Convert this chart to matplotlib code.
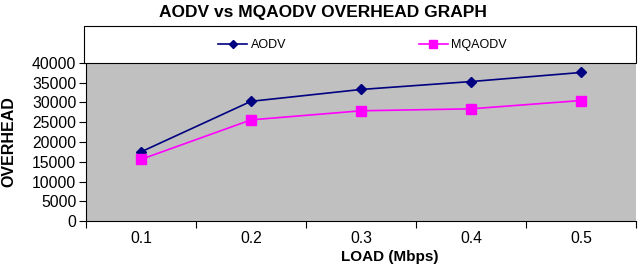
import matplotlib
matplotlib.use("Agg")
import matplotlib.pyplot as plt
from matplotlib.patches import Rectangle
import numpy as np

plt.rcParams['font.family'] = ['Liberation Sans', 'DejaVu Sans']

loads = ["0.1", "0.2", "0.3", "0.4", "0.5"]
aodv = [17500, 30300, 33300, 35300, 37600]
mqaodv = [15600, 25600, 27900, 28400, 30500]
yticks = [0, 5000, 10000, 15000, 20000, 25000, 30000, 35000, 40000]

W, H = 640, 268
fig = plt.figure(figsize=(W / 100, H / 100), dpi=100)
ax = fig.add_axes([86 / W, (H - 221) / H, (636 - 86) / W, (221 - 63) / H])
ax.set_facecolor('#C0C0C0')

x = np.arange(len(loads))
ax.plot(x, aodv, color='#000080', marker='D', markersize=5, linewidth=1.2, label='AODV')
ax.plot(x, mqaodv, color='#FF00FF', marker='s', markersize=7, linewidth=1.2, label='MQAODV')

ax.set_xlim(-0.5, len(loads) - 0.5)
ax.set_ylim(0, 40000)
ax.set_yticks(yticks)
ax.set_yticklabels([str(v) for v in yticks], fontsize=11.3)
ax.set_xticks(x)
ax.set_xticklabels(loads, fontsize=11.3)
ax.tick_params(axis='x', which='major', length=0, pad=7)
ax.set_xticks(np.arange(-0.5, len(loads), 1.0), minor=True)
ax.tick_params(axis='x', which='minor', length=5, direction='out', width=0.8)
ax.tick_params(axis='y', length=5, direction='out', width=0.8, pad=2)
for s in ['top', 'right']:
    ax.spines[s].set_visible(False)
for s in ['left', 'bottom']:
    ax.spines[s].set_color('black')
    ax.spines[s].set_linewidth(0.8)

ax.set_xlabel('LOAD (Mbps)', fontsize=11, fontweight='bold')
ax.xaxis.set_label_coords((390 - 86) / (636 - 86), -(256.5 - 221) / (221 - 63))
ax.xaxis.label.set_va('center')
ax.set_ylabel('OVERHEAD', fontsize=11.5, fontweight='bold')
ax.yaxis.set_label_coords(-(86 - 9) / (636 - 86), 0.5)
ax.yaxis.label.set_va('center')

fig.text(323 / W, 1 - 12 / H, 'AODV vs MQAODV OVERHEAD GRAPH', ha='center', va='center',
         fontsize=12.5, fontweight='bold')

# legend box
fig.patches.append(Rectangle((84 / W, (H - 63) / H), (636 - 84) / W, 37 / H,
                             transform=fig.transFigure, facecolor='white',
                             edgecolor='black', linewidth=0.8))
h, l = ax.get_legend_handles_labels()
fig.legend(h, l, loc='center left', bbox_to_anchor=(207 / W, 1 - 45 / H), ncol=2,
           frameon=False, fontsize=9, columnspacing=10.6, handlelength=2.3,
           handletextpad=0.3, markerscale=0.85)

fig.savefig('out.png', dpi=100)
